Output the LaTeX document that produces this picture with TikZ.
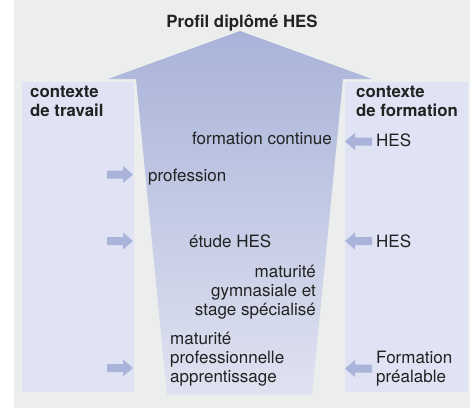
\documentclass[tikz,border=0pt]{standalone}
\usepackage{fontspec}
\setmainfont{TeX Gyre Heros}
\definecolor{bggray}{HTML}{ECEDED}
\definecolor{panel}{HTML}{DFE3F3}
\definecolor{arrtop}{HTML}{A9B3D9}
\definecolor{arrbot}{HTML}{DFE2F0}
\definecolor{arr}{HTML}{AAB4DA}
\definecolor{txt}{HTML}{222222}
\tikzset{
  lbl/.style={inner sep=0pt, text=txt, font=\fontsize{17}{19}\selectfont},
  head/.style={lbl, font=\fontsize{16.8}{18.5}\selectfont\bfseries},
  rarr/.pic={\fill[arr] (0,0) -- (-10,-8.5) -- (-10,-4) -- (-26,-4) -- (-26,4) -- (-10,4) -- (-10,8.5) -- cycle;},
  larr/.pic={\fill[arr] (0,0) -- (10,-8.5) -- (10,-4) -- (27,-4) -- (27,4) -- (10,4) -- (10,8.5) -- cycle;}
}
\begin{document}
\begin{tikzpicture}[x=1pt,y=-1pt]
\useasboundingbox (0,0) rectangle (470,408);
\fill[white] (0,0) rectangle (470,408);
\fill[bggray] (14,0) rectangle (470,408);
% panels
\fill[panel] (22,82) rectangle (134,392);
\fill[panel] (345,82) rectangle (468,392);
% big arrow
\shade[top color=arrtop, bottom color=arrbot]
  (240,31) -- (372,79) -- (343,79) -- (312,395) -- (167,395) -- (136,79) -- (108,79) -- cycle;
% small arrows
\pic at (133,174.5) {rarr};
\pic at (133,241) {rarr};
\pic at (133,368) {rarr};
\pic at (345,141.5) {larr};
\pic at (345,241) {larr};
\pic at (345,368.5) {larr};
% texts
\node[head, anchor=base] (title) at (242,27) {Profil diplômé HES};
\node[head, anchor=base west, align=left] (ctrav) at (30,116) {contexte\\de travail};
\node[head, anchor=base west, align=left] (cform) at (356,116) {contexte\\de formation};
\node[lbl, anchor=base east] (fc) at (332,144) {formation continue};
\node[lbl, anchor=base west] (hes1) at (376,146) {HES};
\node[lbl, anchor=base west] (prof) at (148,181) {profession};
\node[lbl, anchor=base west] (etude) at (189,247) {étude HES};
\node[lbl, anchor=base west] (hes2) at (376,247) {HES};
\node[lbl, anchor=base east, align=right] (matg) at (316,315) {maturité\\gymnasiale et\\stage spécialisé};
\node[lbl, anchor=base west, align=left] (matp) at (170,382) {maturité\\professionnelle\\apprentissage};
\node[lbl, anchor=base west, align=left] (fprea) at (376,382) {Formation\\préalable};
\end{tikzpicture}
\end{document}
